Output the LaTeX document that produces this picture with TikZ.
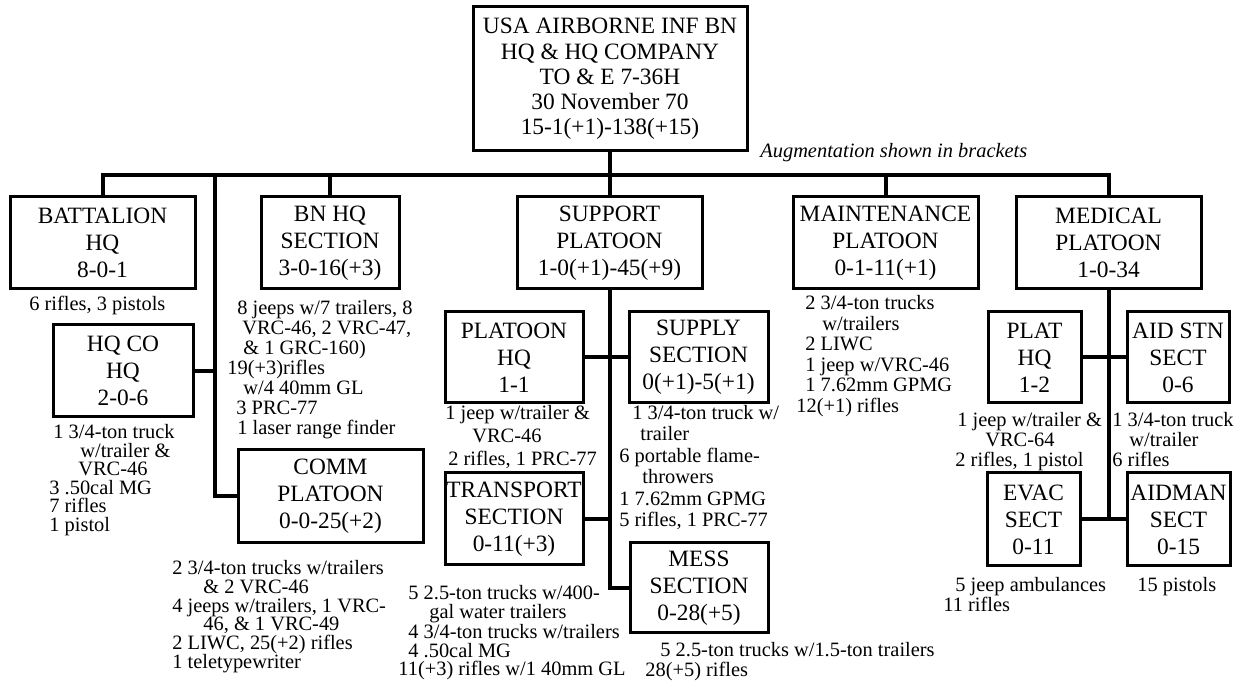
\documentclass[tikz,border=0pt]{standalone}
\usepackage{fontspec}
\setmainfont{Liberation Serif}
\usetikzlibrary{positioning}

\newcommand{\boxfont}{\fontsize{11.7pt}{13.5pt}\selectfont}
\newcommand{\titlefont}{\fontsize{11.7pt}{12.6pt}\selectfont}

\begin{document}
\begin{tikzpicture}[
  x=0.5pt, y=-0.5pt,
  box/.style={draw, line width=1.5pt, align=center, inner sep=0pt, font=\boxfont},
  note/.style={align=left, inner sep=0pt, anchor=north west, font=\fontsize{10.2pt}{#1}\selectfont},
  note/.default=9.6pt,
  augnote/.style={anchor=west, inner sep=0pt, font=\fontsize{10.2pt}{12pt}\selectfont\itshape},
  link/.style={line width=2pt}
]
\useasboundingbox (0,0) rectangle (1243,683);

% top of the chart
\node[box, font=\titlefont, minimum width=137pt, minimum height=72pt] (hhc) at (610,79) {USA AIRBORNE INF BN\\HQ \& HQ COMPANY\\TO \& E 7-36H\\30 November 70\\15-1(+1)-138(+15)};
\node[augnote] (aug) at (760,153) {Augmentation shown in brackets};

% first row
\node[box, minimum width=92.5pt, minimum height=46pt] (bathq) at (102.5,243) {BATTALION\\HQ\\8-0-1};
\node[box, minimum width=69pt, minimum height=46pt] (bnhq) at (330,243) {BN HQ\\SECTION\\3-0-16(+3)};
\node[box, minimum width=92.5pt, minimum height=46pt] (spt) at (609.5,243) {SUPPORT\\PLATOON\\1-0(+1)-45(+9)};
\node[box, minimum width=92.5pt, minimum height=46pt] (maint) at (885.5,243) {MAINTENANCE\\PLATOON\\0-1-11(+1)};
\node[box, minimum width=92.5pt, minimum height=46pt] (med) at (1108.5,243) {MEDICAL\\PLATOON\\1-0-34};

% hq company side
\node[box, minimum width=70pt, minimum height=46pt] (hqco) at (123,371) {HQ CO\\HQ\\2-0-6};
\node[box, minimum width=92.5pt, minimum height=46.5pt] (comm) at (330.5,496.5) {COMM\\PLATOON\\0-0-25(+2)};

% support platoon
\node[box, minimum width=69pt, minimum height=45.5pt] (spthq) at (514,357.5) {PLATOON\\HQ\\1-1};
\node[box, minimum width=69.5pt, minimum height=45.5pt] (supply) at (698.5,357.5) {SUPPLY\\SECTION\\0(+1)-5(+1)};
\node[box, minimum width=69pt, minimum height=46pt] (trans) at (514,519) {TRANSPORT\\SECTION\\0-11(+3)};
\node[box, minimum width=69pt, minimum height=45pt] (mess) at (699,588) {MESS\\SECTION\\0-28(+5)};

% medical platoon
\node[box, minimum width=46.5pt, minimum height=45.5pt] (medhq) at (1034.5,357.5) {PLAT\\HQ\\1-2};
\node[box, minimum width=51pt, minimum height=45.5pt] (aidstn) at (1178,357.5) {AID STN\\SECT\\0-6};
\node[box, minimum width=46.5pt, minimum height=46.5pt] (evac) at (1033.5,519.5) {EVAC\\SECT\\0-11};
\node[box, minimum width=51.5pt, minimum height=46.5pt] (aidman) at (1178.5,519.5) {AIDMAN\\SECT\\0-15};

% equipment notes
\node[note] (bathqnote) at (29,296) {6 rifles, 3 pistols};
\node[note=10pt] (bnhqnote) at (227,300) {\hspace*{5pt}8 jeeps w/7 trailers, 8\\\hspace*{7.5pt}VRC-46, 2 VRC-47,\\\hspace*{8pt}\& 1 GRC-160)\\19(+3)rifles\\\hspace*{8pt}w/4 40mm GL\\\hspace*{4.5pt}3 PRC-77\\\hspace*{5pt}1 laser range finder};
\node[note=9.3pt] (hqconote) at (49,424) {\hspace*{2pt}1 3/4-ton truck\\\hspace*{15.5pt}w/trailer \&\\\hspace*{14.5pt}VRC-46\\3 .50cal MG\\7 rifles\\1 pistol};
\node[note=9.4pt] (commnote) at (172,560) {2 3/4-ton trucks w/trailers\\\hspace*{15.5pt}\& 2 VRC-46\\4 jeeps w/trailers, 1 VRC-\\\hspace*{15.5pt}46, \& 1 VRC-49\\2 LIWC, 25(+2) rifles\\1 teletypewriter};
\node[note=11.5pt] (spthqnote) at (445,405) {1 jeep w/trailer \&\\\hspace*{13.5pt}VRC-46\\\hspace*{1.5pt}2 rifles, 1 PRC-77};
\node[note=10.7pt] (supplynote) at (619,405) {\hspace*{6.5pt}1 3/4-ton truck w/\\\hspace*{10.5pt}trailer\\6 portable flame-\\\hspace*{11.5pt}throwers\\1 7.62mm GPMG\\5 rifles, 1 PRC-77};
\node[note=9.25pt] (transnote) at (398,585) {\hspace*{5pt}5 2.5-ton trucks w/400-\\\hspace*{15.5pt}gal water trailers\\\hspace*{5pt}4 3/4-ton trucks w/trailers\\\hspace*{5pt}4 .50cal MG\\11(+3) rifles w/1 40mm GL};
\node[note=10pt] (messnote) at (645,642) {\hspace*{7.5pt}5 2.5-ton trucks w/1.5-ton trailers\\28(+5) rifles};
\node[note=10.3pt] (maintnote) at (796,295) {\hspace*{4.5pt}2 3/4-ton trucks\\\hspace*{13pt}w/trailers\\\hspace*{4.5pt}2 LIWC\\\hspace*{4.5pt}1 jeep w/VRC-46\\\hspace*{4.5pt}1 7.62mm GPMG\\12(+1) rifles};
\node[note=10pt] (medhqnote) at (955,412) {\hspace*{1pt}1 jeep w/trailer \&\\\hspace*{15pt}VRC-64\\2 rifles, 1 pistol};
\node[note=10pt] (aidstnnote) at (1112,412) {1 3/4-ton truck\\\hspace*{8.5pt}w/trailer\\6 rifles};
\node[note=10pt] (evacnote) at (943,577) {\hspace*{6pt}5 jeep ambulances\\11 rifles};
\node[note] (aidmannote) at (1137,577) {15 pistols};

% connectors
\coordinate (bus) at (610,175);
\coordinate (spine) at (215,175);
\draw[link] (hhc.south) -- (bus);
\draw[link] (bathq.north) |- (bus) -| (med.north);
\draw[link] (bnhq.north) -- (bnhq.north |- bus);
\draw[link] (spt.north) -- (spt.north |- bus);
\draw[link] (maint.north) -- (maint.north |- bus);
\draw[link] (spine) |- (comm.west);
\draw[link] (hqco.east) -- (hqco.east -| spine);
\draw[link] (spt.south) |- (mess.west);
\draw[link] (spthq.east) -- (supply.west);
\draw[link] (trans.east) -- (trans.east -| spt.south);
\draw[link] (med.south) -- (med.south |- evac.east);
\draw[link] (medhq.east) -- (aidstn.west);
\draw[link] (evac.east) -- (aidman.west);
\end{tikzpicture}
\end{document}
